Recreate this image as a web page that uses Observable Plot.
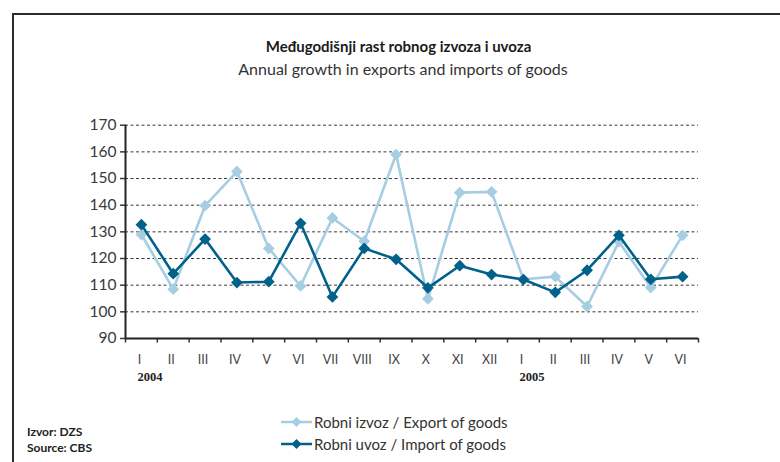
<!DOCTYPE html>
<html><head><meta charset="utf-8">
<script src="https://cdn.jsdelivr.net/npm/d3@7"></script>
<script src="https://cdn.jsdelivr.net/npm/@observablehq/plot@0.6"></script>
<style>
body{margin:0;background:#fff;}
#wrap{position:relative;width:780px;height:462px;overflow:hidden;font-family:Lato,"Open Sans",sans-serif;}
#frame{position:absolute;left:12px;top:13px;width:800px;height:500px;border-top:2px solid #2b2b2b;border-left:2px solid #2b2b2b;}
.ctr{position:absolute;transform:translateX(-50%);white-space:nowrap;}
#title{left:398.5px;top:37px;font-weight:bold;font-size:15px;line-height:18px;color:#1a1a1a;}
#subtitle{left:403px;top:59px;font-size:16px;line-height:20px;color:#333;}
#chart{position:absolute;left:0;top:100px;}
#legend{position:absolute;left:281px;top:410.5px;font-size:15px;color:#333;}
.row{display:flex;align-items:center;height:22.6px;white-space:nowrap;}
.row svg{margin-right:2px;}
#source{position:absolute;left:27px;top:423.5px;font-weight:bold;font-size:12px;line-height:16.3px;color:#222;}
</style></head>
<body>
<div id="wrap">
  <div id="frame"></div>
  <div id="title" class="ctr">Međugodišnji rast robnog izvoza i uvoza</div>
  <div id="subtitle" class="ctr">Annual growth in exports and imports of goods</div>
  <div id="chart"></div>
  <div id="legend"></div>
  <div id="source">Izvor: DZS<br>Source: CBS</div>
</div>
<script>
const months = ["I","II","III","IV","V","VI","VII","VIII","IX","X","XI","XII","I","II","III","IV","V","VI"];
const exportVals = [129.0,108.5,139.8,152.6,123.8,109.7,135.2,126.5,159.0,104.9,144.7,145.0,112.2,113.2,102.0,126.3,109.1,128.7];
const importVals = [132.7,114.3,127.3,111.0,111.3,133.2,105.6,123.8,119.7,109.0,117.3,114.0,112.1,107.3,115.6,128.7,112.2,113.2];
const years = ["2004","2005"];
const yearStartIndex = [0,12];
const yTicks = [90,100,110,120,130,140,150,160,170];
const seriesNames = ["Robni izvoz / Export of goods","Robni uvoz / Import of goods"];
const colors = ["#a6cde2","#00628a"];

const rows = months.map((m,i)=>({i, m, exp: exportVals[i], imp: importVals[i]}));
const xc = d => d.i + 0.5;

const chart = Plot.plot({
  width:780, height:290,
  marginLeft:125, marginRight:82, marginTop:24.7, marginBottom:52,
  style:{fontFamily:"Lato, sans-serif", background:"transparent"},
  x:{type:"linear", domain:[0, months.length]},
  y:{domain:[90,170]},
  marks:[
    Plot.ruleY(yTicks.filter(v=>v>90), {x1:0, x2:months.length, stroke:"#3a3a3a", strokeWidth:1, strokeDasharray:"3,2.5"}),
    Plot.axisY(yTicks, {tickSize:5, tickPadding:4, fontSize:15.5, color:"#3a3a3a", strokeWidth:1.5}),
    Plot.axisX(d3.range(months.length+1), {tickSize:4.5, tickFormat:()=>"", color:"#333", strokeWidth:1.5}),
    Plot.axisX(rows.map(xc), {tickSize:0, tickPadding:17, fontSize:12.5, color:"#444", dx:-2, tickFormat:v=>months[Math.floor(v)]}),
    Plot.ruleX([0], {y1:90, y2:170, stroke:"#222", strokeWidth:2}),
    Plot.ruleY([90], {x1:0, x2:months.length, stroke:"#222", strokeWidth:2}),
    Plot.line(rows, {x:xc, y:"exp", stroke:colors[0], strokeWidth:2.6}),
    Plot.dot(rows, {x:xc, y:"exp", symbol:"diamond2", r:5.3, fill:colors[0], stroke:"none"}),
    Plot.line(rows, {x:xc, y:"imp", stroke:colors[1], strokeWidth:2.6}),
    Plot.dot(rows, {x:xc, y:"imp", symbol:"diamond2", r:5.3, fill:colors[1], stroke:"none"}),
    Plot.text(years, {x:(d,i)=>yearStartIndex[i]+0.5, frameAnchor:"bottom", dy:42, dx:-4, textAnchor:"start",
      fontFamily:"Liberation Serif, serif", fontWeight:"bold", fontSize:12.5, fill:"#222"})
  ]
});
document.getElementById("chart").appendChild(chart);

const legend = document.getElementById("legend");
seriesNames.forEach((name,k)=>{
  const row = document.createElement("div");
  row.className = "row";
  row.innerHTML = `<svg width="31" height="12"><line x1="0" y1="6" x2="31" y2="6" stroke="${colors[k]}" stroke-width="2.5"/><path d="M15.5,1 L20.5,6 L15.5,11 L10.5,6 Z" fill="${colors[k]}"/></svg><span>${name}</span>`;
  legend.appendChild(row);
});
</script>
</body></html>
